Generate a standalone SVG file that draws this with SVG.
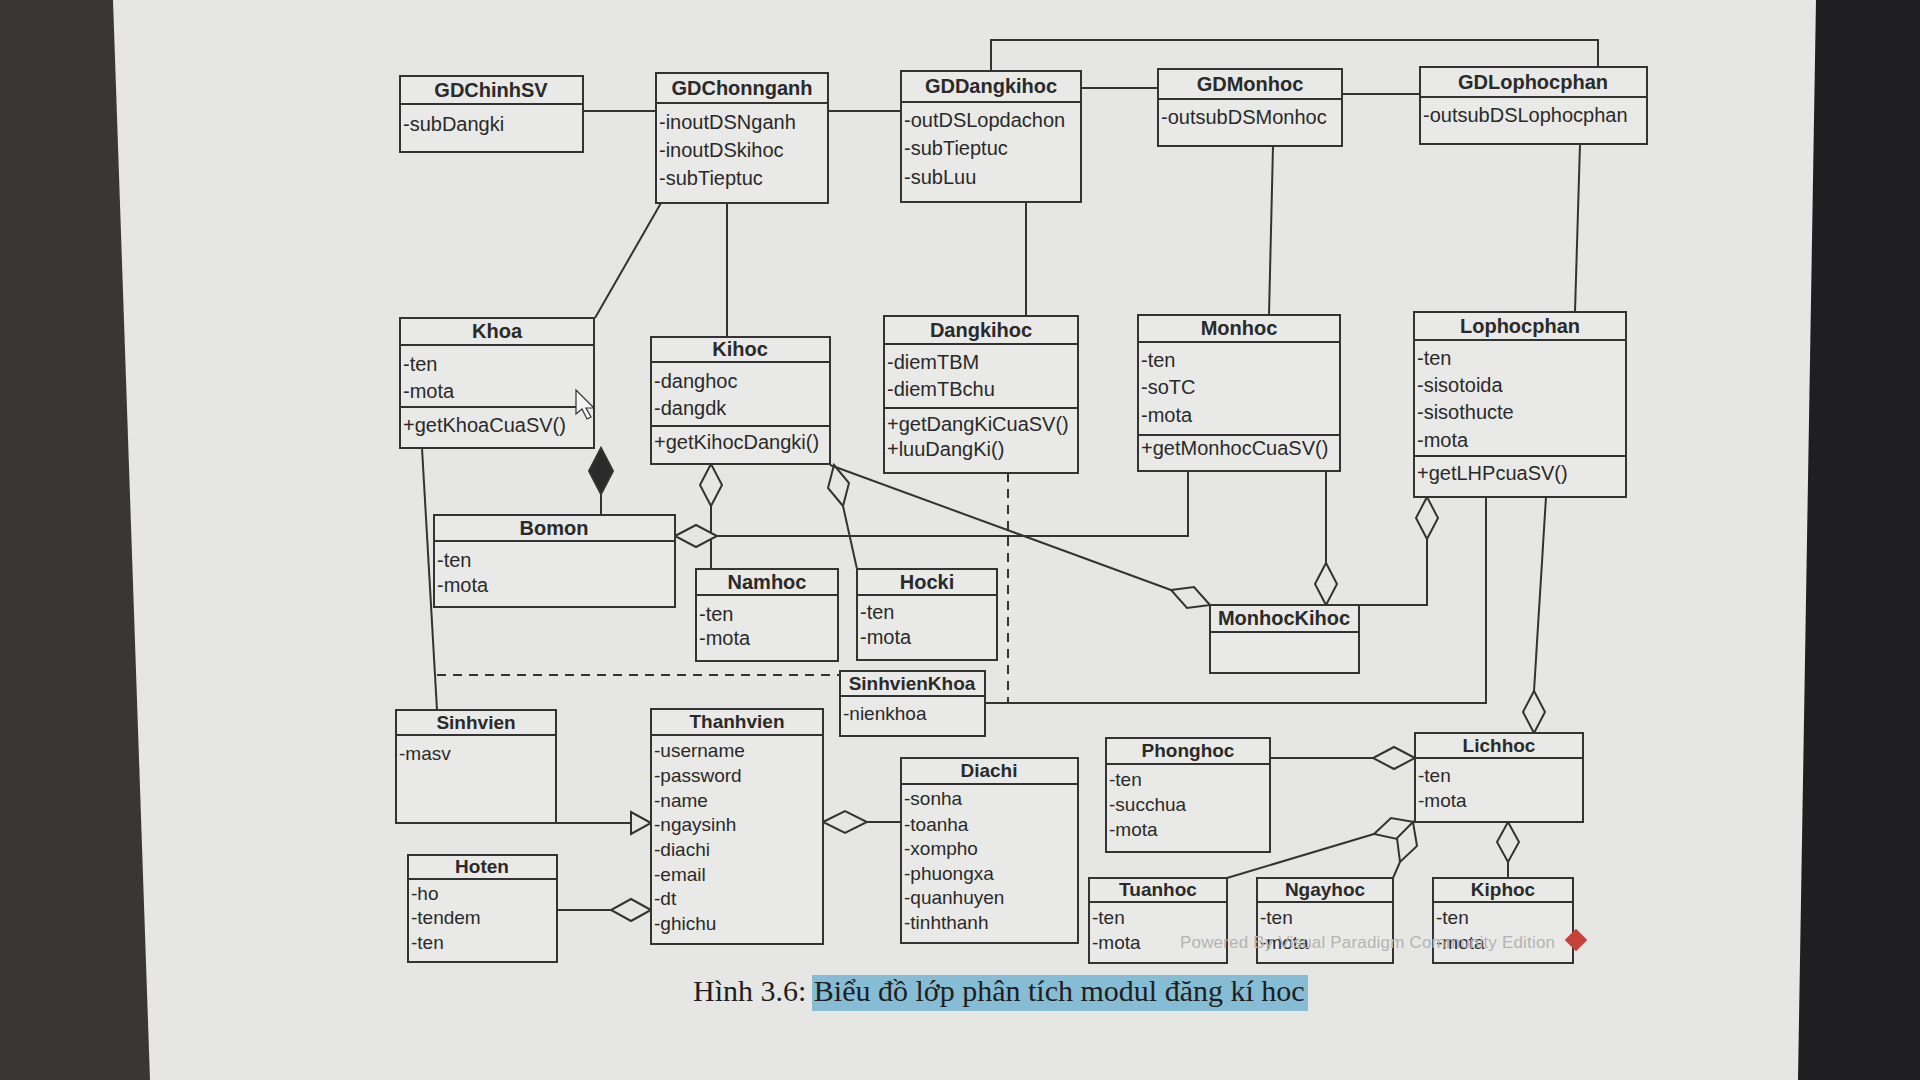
<svg xmlns="http://www.w3.org/2000/svg" width="1920" height="1080" viewBox="0 0 1920 1080">
<style>
.box{fill:#e9e9e7;stroke:#333;stroke-width:2}
.div{stroke:#333;stroke-width:2}
.t{font-family:"Liberation Sans",Arial,sans-serif;font-weight:bold;font-size:20px;fill:#2a2a2a;text-anchor:middle}
.a{font-family:"Liberation Sans",Arial,sans-serif;font-size:20px;fill:#2a2a2a}
.s .t{font-size:19px}
.s .a{font-size:19px}
.ln{fill:none;stroke:#333;stroke-width:2}
.dash{fill:none;stroke:#333;stroke-width:2;stroke-dasharray:9 7}
.hd{fill:#e6e6e4;stroke:#333;stroke-width:2}
.fd{fill:#2a2a2a;stroke:#333;stroke-width:2}
</style>
<rect x="0" y="0" width="1920" height="1080" fill="#e6e6e4"/>
<polygon points="0,0 113,0 150,1080 0,1080" fill="#3a3634"/>
<polygon points="1816,0 1920,0 1920,1080 1798,1080" fill="#1f1f22"/>

<g id="connectors">
<polyline class="ln" points="583,111 656,111"/>
<polyline class="ln" points="828,111 901,111"/>
<polyline class="ln" points="1081,88 1158,88"/>
<polyline class="ln" points="1342,94 1420,94"/>
<polyline class="ln" points="991,71 991,40 1598,40 1598,67"/>
<polyline class="ln" points="661,203 595,318"/>
<polyline class="ln" points="727,203 727,337"/>
<polyline class="ln" points="1026,202 1026,316"/>
<polyline class="ln" points="1273,146 1269,315"/>
<polyline class="ln" points="1580,144 1575,312"/>
<polyline class="ln" points="601,494 601,515"/>
<polygon class="fd" points="601,448 613,471 601,494 589,471"/>
<polyline class="ln" points="711,506 711,569"/>
<polygon class="hd" points="711,464 722,485 711,506 700,485"/>
<polyline class="ln" points="843,506 857,569"/>
<polygon class="hd" points="834,465 849,483 843,506 828,488"/>
<polyline class="ln" points="830,465 1171,590"/>
<polygon class="hd" points="1210,605 1194,587 1171,590 1187,608"/>
<polyline class="ln" points="717,536 1188,536 1188,471"/>
<polygon class="hd" points="675,536 696,525 717,536 696,547"/>
<polyline class="ln" points="1326,471 1326,563"/>
<polygon class="hd" points="1326,605 1337,584 1326,563 1315,584"/>
<polyline class="ln" points="1427,539 1427,605 1359,605"/>
<polygon class="hd" points="1427,497 1438,518 1427,539 1416,518"/>
<polyline class="dash" points="1008,473 1008,703"/>
<polyline class="ln" points="985,703 1486,703 1486,497"/>
<polyline class="ln" points="1546,497 1534,691"/>
<polygon class="hd" points="1534,733 1545,712 1534,691 1523,712"/>
<polyline class="ln" points="422,448 437,710"/>
<polyline class="dash" points="437,675 840,675"/>
<polyline class="ln" points="556,823 631,823"/>
<polygon class="hd" points="651,823 631,812 631,834"/>
<polyline class="ln" points="557,910 611,910"/>
<polygon class="hd" points="651,910 631,899 611,910 631,921"/>
<polyline class="ln" points="867,822 901,822"/>
<polygon class="hd" points="823,822 845,811 867,822 845,833"/>
<polyline class="ln" points="1270,758 1373,758"/>
<polygon class="hd" points="1415,758 1394,747 1373,758 1394,769"/>
<polyline class="ln" points="1374,834 1227,878"/>
<polygon class="hd" points="1414,822 1391,818 1374,834 1397,839"/>
<polyline class="ln" points="1400,862 1393,878"/>
<polygon class="hd" points="1413,822 1397,838 1400,862 1417,846"/>
<polyline class="ln" points="1508,862 1508,878"/>
<polygon class="hd" points="1508,822 1519,842 1508,862 1497,842"/>
</g>

<g id="GDChinhSV">
<rect class="box" x="400" y="76" width="183" height="76"/>
<line class="div" x1="400" y1="104" x2="583" y2="104"/>
<text class="t" x="491" y="97">GDChinhSV</text>
<text class="a" x="403" y="131">-subDangki</text>
</g>
<g id="GDChonnganh">
<rect class="box" x="656" y="73" width="172" height="130"/>
<line class="div" x1="656" y1="103" x2="828" y2="103"/>
<text class="t" x="742" y="95">GDChonnganh</text>
<text class="a" x="659" y="129">-inoutDSNganh</text>
<text class="a" x="659" y="157">-inoutDSkihoc</text>
<text class="a" x="659" y="185">-subTieptuc</text>
</g>
<g id="GDDangkihoc">
<rect class="box" x="901" y="71" width="180" height="131"/>
<line class="div" x1="901" y1="102" x2="1081" y2="102"/>
<text class="t" x="991" y="93">GDDangkihoc</text>
<text class="a" x="904" y="127">-outDSLopdachon</text>
<text class="a" x="904" y="155">-subTieptuc</text>
<text class="a" x="904" y="184">-subLuu</text>
</g>
<g id="GDMonhoc">
<rect class="box" x="1158" y="69" width="184" height="77"/>
<line class="div" x1="1158" y1="99" x2="1342" y2="99"/>
<text class="t" x="1250" y="91">GDMonhoc</text>
<text class="a" x="1161" y="124">-outsubDSMonhoc</text>
</g>
<g id="GDLophocphan">
<rect class="box" x="1420" y="67" width="227" height="77"/>
<line class="div" x1="1420" y1="97" x2="1647" y2="97"/>
<text class="t" x="1533" y="89">GDLophocphan</text>
<text class="a" x="1423" y="122">-outsubDSLophocphan</text>
</g>

<g id="Khoa">
<rect class="box" x="400" y="318" width="194" height="130"/>
<line class="div" x1="400" y1="345" x2="594" y2="345"/>
<line class="div" x1="400" y1="407" x2="594" y2="407"/>
<text class="t" x="497" y="338">Khoa</text>
<text class="a" x="403" y="371">-ten</text>
<text class="a" x="403" y="398">-mota</text>
<text class="a" x="403" y="432">+getKhoaCuaSV()</text>
</g>
<g id="Kihoc">
<rect class="box" x="651" y="337" width="179" height="127"/>
<line class="div" x1="651" y1="362" x2="830" y2="362"/>
<line class="div" x1="651" y1="426" x2="830" y2="426"/>
<text class="t" x="740" y="356">Kihoc</text>
<text class="a" x="654" y="388">-danghoc</text>
<text class="a" x="654" y="415">-dangdk</text>
<text class="a" x="654" y="449">+getKihocDangki()</text>
</g>
<g id="Dangkihoc">
<rect class="box" x="884" y="316" width="194" height="157"/>
<line class="div" x1="884" y1="344" x2="1078" y2="344"/>
<line class="div" x1="884" y1="408" x2="1078" y2="408"/>
<text class="t" x="981" y="337">Dangkihoc</text>
<text class="a" x="887" y="369">-diemTBM</text>
<text class="a" x="887" y="396">-diemTBchu</text>
<text class="a" x="887" y="431">+getDangKiCuaSV()</text>
<text class="a" x="887" y="456">+luuDangKi()</text>
</g>
<g id="Monhoc">
<rect class="box" x="1138" y="315" width="202" height="156"/>
<line class="div" x1="1138" y1="342" x2="1340" y2="342"/>
<line class="div" x1="1138" y1="435" x2="1340" y2="435"/>
<text class="t" x="1239" y="335">Monhoc</text>
<text class="a" x="1141" y="367">-ten</text>
<text class="a" x="1141" y="394">-soTC</text>
<text class="a" x="1141" y="422">-mota</text>
<text class="a" x="1141" y="455">+getMonhocCuaSV()</text>
</g>
<g id="Lophocphan">
<rect class="box" x="1414" y="312" width="212" height="185"/>
<line class="div" x1="1414" y1="340" x2="1626" y2="340"/>
<line class="div" x1="1414" y1="456" x2="1626" y2="456"/>
<text class="t" x="1520" y="333">Lophocphan</text>
<text class="a" x="1417" y="365">-ten</text>
<text class="a" x="1417" y="392">-sisotoida</text>
<text class="a" x="1417" y="419">-sisothucte</text>
<text class="a" x="1417" y="447">-mota</text>
<text class="a" x="1417" y="480">+getLHPcuaSV()</text>
</g>

<g id="Bomon">
<rect class="box" x="434" y="515" width="241" height="92"/>
<line class="div" x1="434" y1="541" x2="675" y2="541"/>
<text class="t" x="554" y="535">Bomon</text>
<text class="a" x="437" y="567">-ten</text>
<text class="a" x="437" y="592">-mota</text>
</g>
<g id="Namhoc">
<rect class="box" x="696" y="569" width="142" height="92"/>
<line class="div" x1="696" y1="595" x2="838" y2="595"/>
<text class="t" x="767" y="589">Namhoc</text>
<text class="a" x="699" y="621">-ten</text>
<text class="a" x="699" y="645">-mota</text>
</g>
<g id="Hocki">
<rect class="box" x="857" y="569" width="140" height="91"/>
<line class="div" x1="857" y1="595" x2="997" y2="595"/>
<text class="t" x="927" y="589">Hocki</text>
<text class="a" x="860" y="619">-ten</text>
<text class="a" x="860" y="644">-mota</text>
</g>
<g id="MonhocKihoc">
<rect class="box" x="1210" y="605" width="149" height="68"/>
<line class="div" x1="1210" y1="632" x2="1359" y2="632"/>
<text class="t" x="1284" y="625">MonhocKihoc</text>
</g>

<g id="SinhvienKhoa" class="s">
<rect class="box" x="840" y="671" width="145" height="65"/>
<line class="div" x1="840" y1="696" x2="985" y2="696"/>
<text class="t" x="912" y="690">SinhvienKhoa</text>
<text class="a" x="843" y="720">-nienkhoa</text>
</g>
<g id="Sinhvien" class="s">
<rect class="box" x="396" y="710" width="160" height="113"/>
<line class="div" x1="396" y1="735" x2="556" y2="735"/>
<text class="t" x="476" y="729">Sinhvien</text>
<text class="a" x="399" y="760">-masv</text>
</g>
<g id="Thanhvien" class="s">
<rect class="box" x="651" y="709" width="172" height="235"/>
<line class="div" x1="651" y1="735" x2="823" y2="735"/>
<text class="t" x="737" y="728">Thanhvien</text>
<text class="a" x="654" y="757">-username</text>
<text class="a" x="654" y="782">-password</text>
<text class="a" x="654" y="807">-name</text>
<text class="a" x="654" y="831">-ngaysinh</text>
<text class="a" x="654" y="856">-diachi</text>
<text class="a" x="654" y="881">-email</text>
<text class="a" x="654" y="905">-dt</text>
<text class="a" x="654" y="930">-ghichu</text>
</g>
<g id="Diachi" class="s">
<rect class="box" x="901" y="758" width="177" height="185"/>
<line class="div" x1="901" y1="784" x2="1078" y2="784"/>
<text class="t" x="989" y="777">Diachi</text>
<text class="a" x="904" y="805">-sonha</text>
<text class="a" x="904" y="831">-toanha</text>
<text class="a" x="904" y="855">-xompho</text>
<text class="a" x="904" y="880">-phuongxa</text>
<text class="a" x="904" y="904">-quanhuyen</text>
<text class="a" x="904" y="929">-tinhthanh</text>
</g>
<g id="Hoten" class="s">
<rect class="box" x="408" y="855" width="149" height="107"/>
<line class="div" x1="408" y1="879" x2="557" y2="879"/>
<text class="t" x="482" y="873">Hoten</text>
<text class="a" x="411" y="900">-ho</text>
<text class="a" x="411" y="924">-tendem</text>
<text class="a" x="411" y="949">-ten</text>
</g>
<g id="Phonghoc" class="s">
<rect class="box" x="1106" y="738" width="164" height="114"/>
<line class="div" x1="1106" y1="764" x2="1270" y2="764"/>
<text class="t" x="1188" y="757">Phonghoc</text>
<text class="a" x="1109" y="786">-ten</text>
<text class="a" x="1109" y="811">-succhua</text>
<text class="a" x="1109" y="836">-mota</text>
</g>
<g id="Lichhoc" class="s">
<rect class="box" x="1415" y="733" width="168" height="89"/>
<line class="div" x1="1415" y1="758" x2="1583" y2="758"/>
<text class="t" x="1499" y="752">Lichhoc</text>
<text class="a" x="1418" y="782">-ten</text>
<text class="a" x="1418" y="807">-mota</text>
</g>
<g id="Tuanhoc" class="s">
<rect class="box" x="1089" y="878" width="138" height="85"/>
<line class="div" x1="1089" y1="902" x2="1227" y2="902"/>
<text class="t" x="1158" y="896">Tuanhoc</text>
<text class="a" x="1092" y="924">-ten</text>
<text class="a" x="1092" y="949">-mota</text>
</g>
<g id="Ngayhoc" class="s">
<rect class="box" x="1257" y="878" width="136" height="85"/>
<line class="div" x1="1257" y1="902" x2="1393" y2="902"/>
<text class="t" x="1325" y="896">Ngayhoc</text>
<text class="a" x="1260" y="924">-ten</text>
<text class="a" x="1260" y="949">-mota</text>
</g>
<g id="Kiphoc" class="s">
<rect class="box" x="1433" y="878" width="140" height="85"/>
<line class="div" x1="1433" y1="902" x2="1573" y2="902"/>
<text class="t" x="1503" y="896">Kiphoc</text>
<text class="a" x="1436" y="924">-ten</text>
<text class="a" x="1436" y="949">-mota</text>
</g>

<text x="1180" y="948" font-family="Liberation Sans, Arial, sans-serif" font-size="17" fill="#b4b4b4" textLength="375" lengthAdjust="spacing">Powered By Visual Paradigm Community Edition</text>
<rect x="1568" y="932" width="16" height="16" fill="#c8423c" transform="rotate(45 1576 940)"/>
<polygon points="576,390 576,414 582,409 587,419 591,417 586,408 594,408" fill="#f4f4f4" stroke="#333" stroke-width="1.2"/>

<rect x="812" y="975" width="496" height="36" fill="#86bcd4"/>
<text x="693" y="1001" font-family="Liberation Serif, Times New Roman, serif" font-size="30" fill="#1e1e1e">Hình 3.6: Biểu đồ lớp phân tích modul đăng kí hoc</text>
</svg>
